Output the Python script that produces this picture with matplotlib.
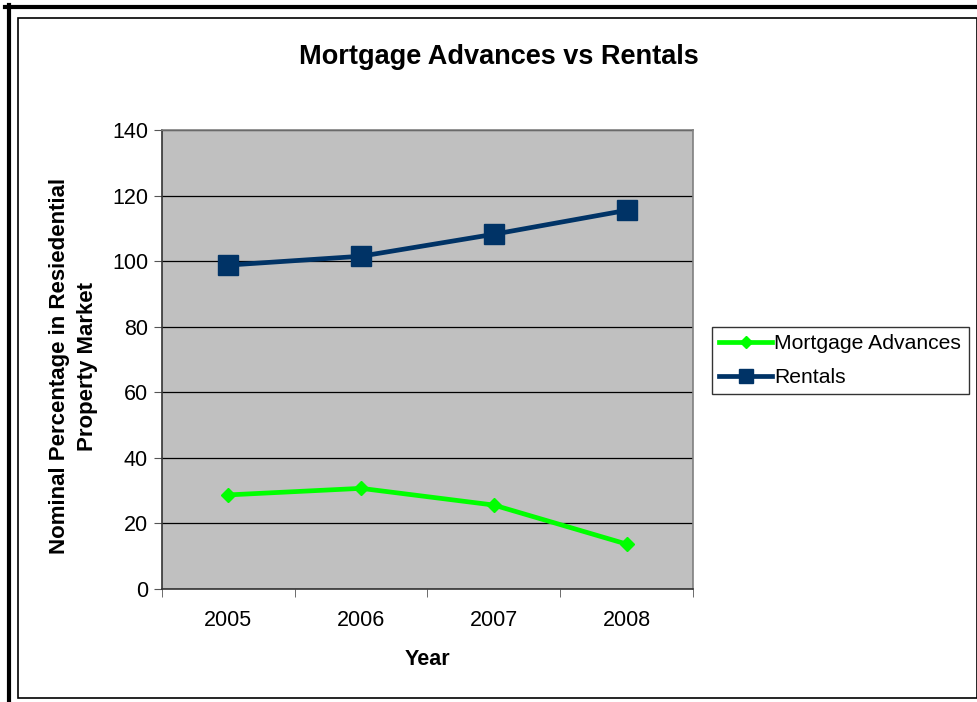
import numpy as np
import matplotlib
matplotlib.use("Agg")
from matplotlib import pyplot as plt
from matplotlib.lines import Line2D
from matplotlib.patches import Rectangle

plt.rcParams['font.family'] = ['Liberation Sans', 'DejaVu Sans']

years = ['2005', '2006', '2007', '2008']
mortgage = [28.7, 30.7, 25.6, 13.7]
rentals = [98.8, 101.5, 108.2, 115.5]

W, H = 978, 702
fig = plt.figure(figsize=(W / 100, H / 100), dpi=100)

def fx(px):
    return px / W

def fy(py):
    return 1 - py / H

# outer frame: thick lines on the left and top, thin box inside
fig.add_artist(Line2D([fx(8.5), fx(8.5)], [fy(5), 0], color='black', lw=3.0,
                      transform=fig.transFigure))
fig.add_artist(Line2D([fx(5), 1], [fy(7), fy(7)], color='black', lw=3.0,
                      transform=fig.transFigure))
fig.add_artist(Rectangle((fx(18), fy(698)), fx(977) - fx(18), fy(18) - fy(698),
                         fill=False, edgecolor='black', lw=1.2,
                         transform=fig.transFigure))

ax = fig.add_axes([fx(162), fy(589), fx(693) - fx(162), fy(130) - fy(589)])
ax.set_facecolor('#C0C0C0')

x = np.arange(len(years))
ax.plot(x, mortgage, color='#00FF00', lw=3.4, marker='D', markersize=7,
        label='Mortgage Advances', zorder=3)
ax.plot(x, rentals, color='#003366', lw=3.4, marker='s', markersize=14,
        label='Rentals', zorder=3)

ax.set_xlim(-0.5, len(years) - 0.5)
ax.set_ylim(0, 140)
ax.set_yticks(np.arange(0, 141, 20))
ax.yaxis.grid(True, color='black', lw=0.9)
ax.set_axisbelow(True)

# category labels centred, tick marks on the boundaries
ax.set_xticks(x)
ax.set_xticklabels(years)
ax.set_xticks(np.arange(-0.5, len(years), 1), minor=True)
ax.tick_params(axis='x', which='major', length=0, pad=15, labelsize=15.5)
ax.tick_params(axis='x', which='minor', length=6, direction='out', color='#555555')
ax.tick_params(axis='y', length=6, direction='out', color='#555555', labelsize=15.5, pad=4)

for side in ['top', 'right']:
    ax.spines[side].set_color('#808080')
    ax.spines[side].set_linewidth(1.2)
for side in ['left', 'bottom']:
    ax.spines[side].set_color('#333333')
    ax.spines[side].set_linewidth(1.2)

ax.set_xlabel('Year', fontsize=15.5, fontweight='bold', labelpad=13)
ax.set_ylabel('Nominal Percentage in Resiedential\nProperty Market', fontsize=16,
              fontweight='bold', linespacing=1.4)
ax.yaxis.set_label_coords(-0.121, 0.485)

fig.text(fx(499), fy(57), 'Mortgage Advances vs Rentals', fontsize=19.5,
         fontweight='bold', ha='center', va='center')

leg = fig.legend(loc='center left', bbox_to_anchor=(fx(712), fy(360.5)),
                 fontsize=15.2, frameon=True, fancybox=False, borderpad=0.35,
                 handlelength=2.5, handletextpad=0.1, labelspacing=0.72,
                 borderaxespad=0)
leg.get_frame().set_edgecolor('black')
leg.get_frame().set_linewidth(1.0)
leg.legend_handles[0].set_markersize(6)
leg.legend_handles[1].set_markersize(10)

fig.savefig('out.png', dpi=100)
